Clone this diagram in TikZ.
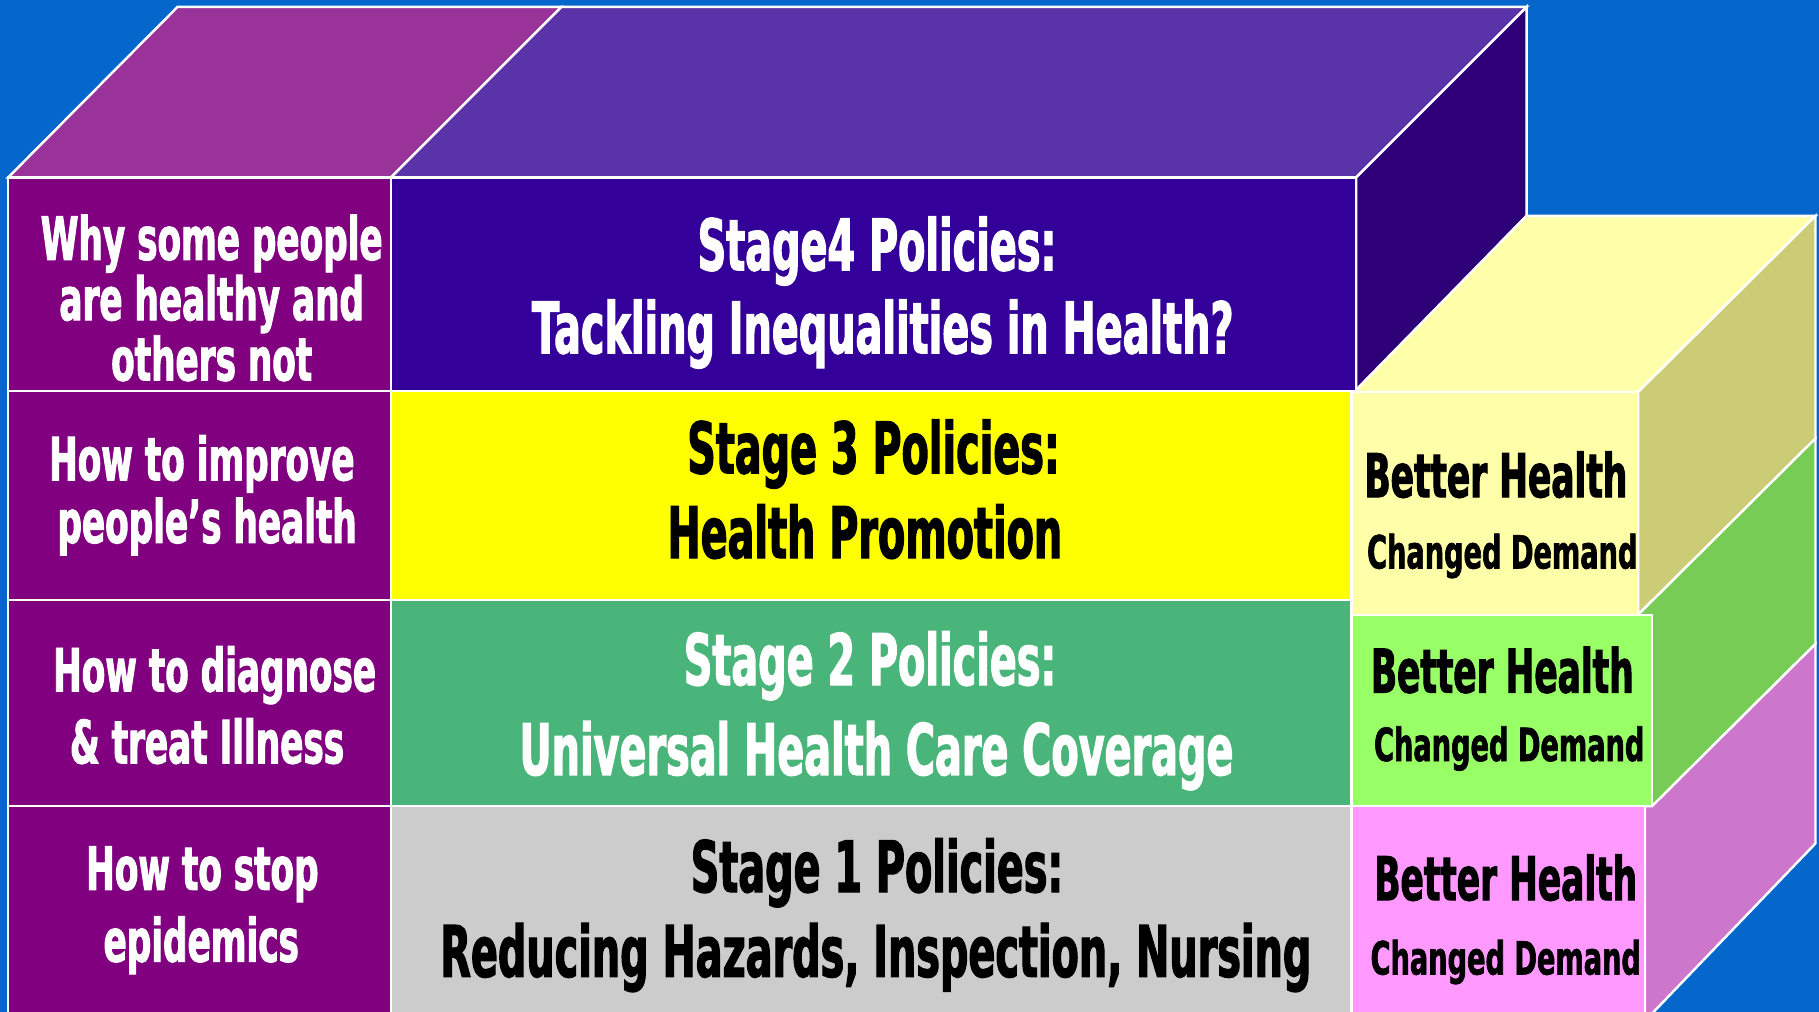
\documentclass[tikz,border=0pt]{standalone}
\usepackage{fontspec}
% condensed heavy faces for the different label groups
\newfontfamily\heavyP{DejaVu Sans}[FakeStretch=0.56, FakeBold=1.6]
\newfontfamily\heavyQ{DejaVu Sans}[FakeStretch=0.575, FakeBold=1.6]
\newfontfamily\heavyB{DejaVu Sans}[FakeStretch=0.57, FakeBold=1.6]
\newfontfamily\heavyC{DejaVu Sans}[FakeStretch=0.595, FakeBold=1.4]

\definecolor{bgblue}{HTML}{0566CC}
\definecolor{topleft}{HTML}{993399}
\definecolor{topfour}{HTML}{5B33A8}
\definecolor{sidefour}{HTML}{2D0077}
\definecolor{stagefour}{HTML}{330099}
\definecolor{questions}{HTML}{800080}
\definecolor{stagethree}{HTML}{FFFF00}
\definecolor{stagetwo}{HTML}{4AB57A}
\definecolor{stageone}{HTML}{CCCCCC}
\definecolor{paleyellow}{HTML}{FFFFAA}
\definecolor{khaki}{HTML}{CCCC77}
\definecolor{palegreen}{HTML}{99FF66}
\definecolor{sidegreen}{HTML}{77CC55}
\definecolor{palepink}{HTML}{FF99FF}
\definecolor{sidepink}{HTML}{CC77CC}

\begin{document}
\begin{tikzpicture}[x=0.01cm, y=-0.01cm,
  face/.style={draw=white, line width=0.6pt, line join=miter},
  qtext/.style={anchor=base, inner sep=0pt, text=white,
    font=\heavyQ\bfseries\fontsize{14.6}{17}\selectfont},
  ptext/.style={anchor=base, inner sep=0pt,
    font=\heavyP\bfseries\fontsize{17.4}{20}\selectfont},
  bhtext/.style={anchor=base, inner sep=0pt, text=black,
    font=\heavyB\bfseries\fontsize{14.8}{17}\selectfont},
  cdtext/.style={anchor=base, inner sep=0pt, text=black,
    font=\heavyC\bfseries\fontsize{11.2}{13}\selectfont}]

\useasboundingbox (0,0) rectangle (1568,872);
\clip (0,0) rectangle (1568,872);
\fill[bgblue] (0,0) rectangle (1568,872);

% upper block: top and side faces
\path[face, fill=topleft]  (7,153) -- (153,6) -- (484,6) -- (337,153) -- cycle;
\path[face, fill=topfour]  (337,153) -- (484,6) -- (1316,6) -- (1169,153) -- cycle;
\path[face, fill=sidefour] (1169,153) -- (1316,6) -- (1316,186) -- (1169,337) -- cycle;

% outcome blocks: top and side faces
\path[face, fill=paleyellow] (1167,338) -- (1316,186) -- (1565,186) -- (1412,338) -- cycle;
\path[face, fill=khaki]      (1412,338) -- (1565,186) -- (1565,378) -- (1412,530) -- cycle;
\path[face, fill=sidegreen]  (1412,530) -- (1565,378) -- (1565,555) -- (1424,695) -- (1412,695) -- cycle;
\path[face, fill=sidepink]   (1418,695) -- (1424,695) -- (1565,555) -- (1565,727) -- (1418,880) -- cycle;

% question column
\path[face, fill=questions] (7,153) rectangle (337,337);
\path[face, fill=questions] (7,337) rectangle (337,517);
\path[face, fill=questions] (7,517) rectangle (337,695);
\path[face, fill=questions] (7,695) rectangle (337,880);

% policy stages
\path[face, fill=stagefour]  (337,153) rectangle (1169,337);
\path[face, fill=stagethree] (337,337) rectangle (1165,517);
\path[face, fill=stagetwo]   (337,517) rectangle (1165,695);
\path[face, fill=stageone]   (337,695) rectangle (1165,880);

% outcome fronts
\path[face, fill=paleyellow] (1165,338) rectangle (1412,530);
\path[face, fill=palegreen]  (1165,530) rectangle (1424,695);
\path[face, fill=palepink]   (1165,695) rectangle (1418,880);

% questions
\node[qtext] (q4a) at (182.5,224) {Why some people};
\node[qtext] (q4b) at (182.5,276) {are healthy and};
\node[qtext] (q4c) at (182.5,328) {others not};
\node[qtext] (q3a) at (174,414) {How to improve};
\node[qtext] (q3b) at (178.5,468) {people’s health};
\node[qtext] (q2a) at (185,596) {How to diagnose};
\node[qtext] (q2b) at (178.5,658) {\& treat Illness};
\node[qtext] (q1a) at (174.5,767) {How to stop};
\node[qtext] (q1b) at (173.5,829) {epidemics};

% policies
\node[ptext, text=white] (s4a) at (756,233) {Stage4 Policies:};
\node[ptext, text=white] (s4b) at (761,304.5) {Tackling Inequalities in Health?};
\node[ptext, text=black] (s3a) at (753,408) {Stage 3 Policies:};
\node[ptext, text=black] (s3b) at (745.5,481) {Health Promotion};
\node[ptext, text=white] (s2a) at (750,590.5) {Stage 2 Policies:};
\node[ptext, text=white] (s2b) at (755.5,668) {Universal Health Care Coverage};
\node[ptext, text=black] (s1a) at (756,769) {Stage 1 Policies:};
\node[ptext, text=black] (s1b) at (755,842) {Reducing Hazards, Inspection, Nursing};

% outcomes
\node[bhtext] (o3a) at (1289.5,428.6) {Better Health};
\node[cdtext] (o3b) at (1295,490) {Changed Demand};
\node[bhtext] (o2a) at (1295,597) {Better Health};
\node[cdtext] (o2b) at (1301,656) {Changed Demand};
\node[bhtext] (o1a) at (1298,776) {Better Health};
\node[cdtext] (o1b) at (1298,840) {Changed Demand};
\end{tikzpicture}
\end{document}
